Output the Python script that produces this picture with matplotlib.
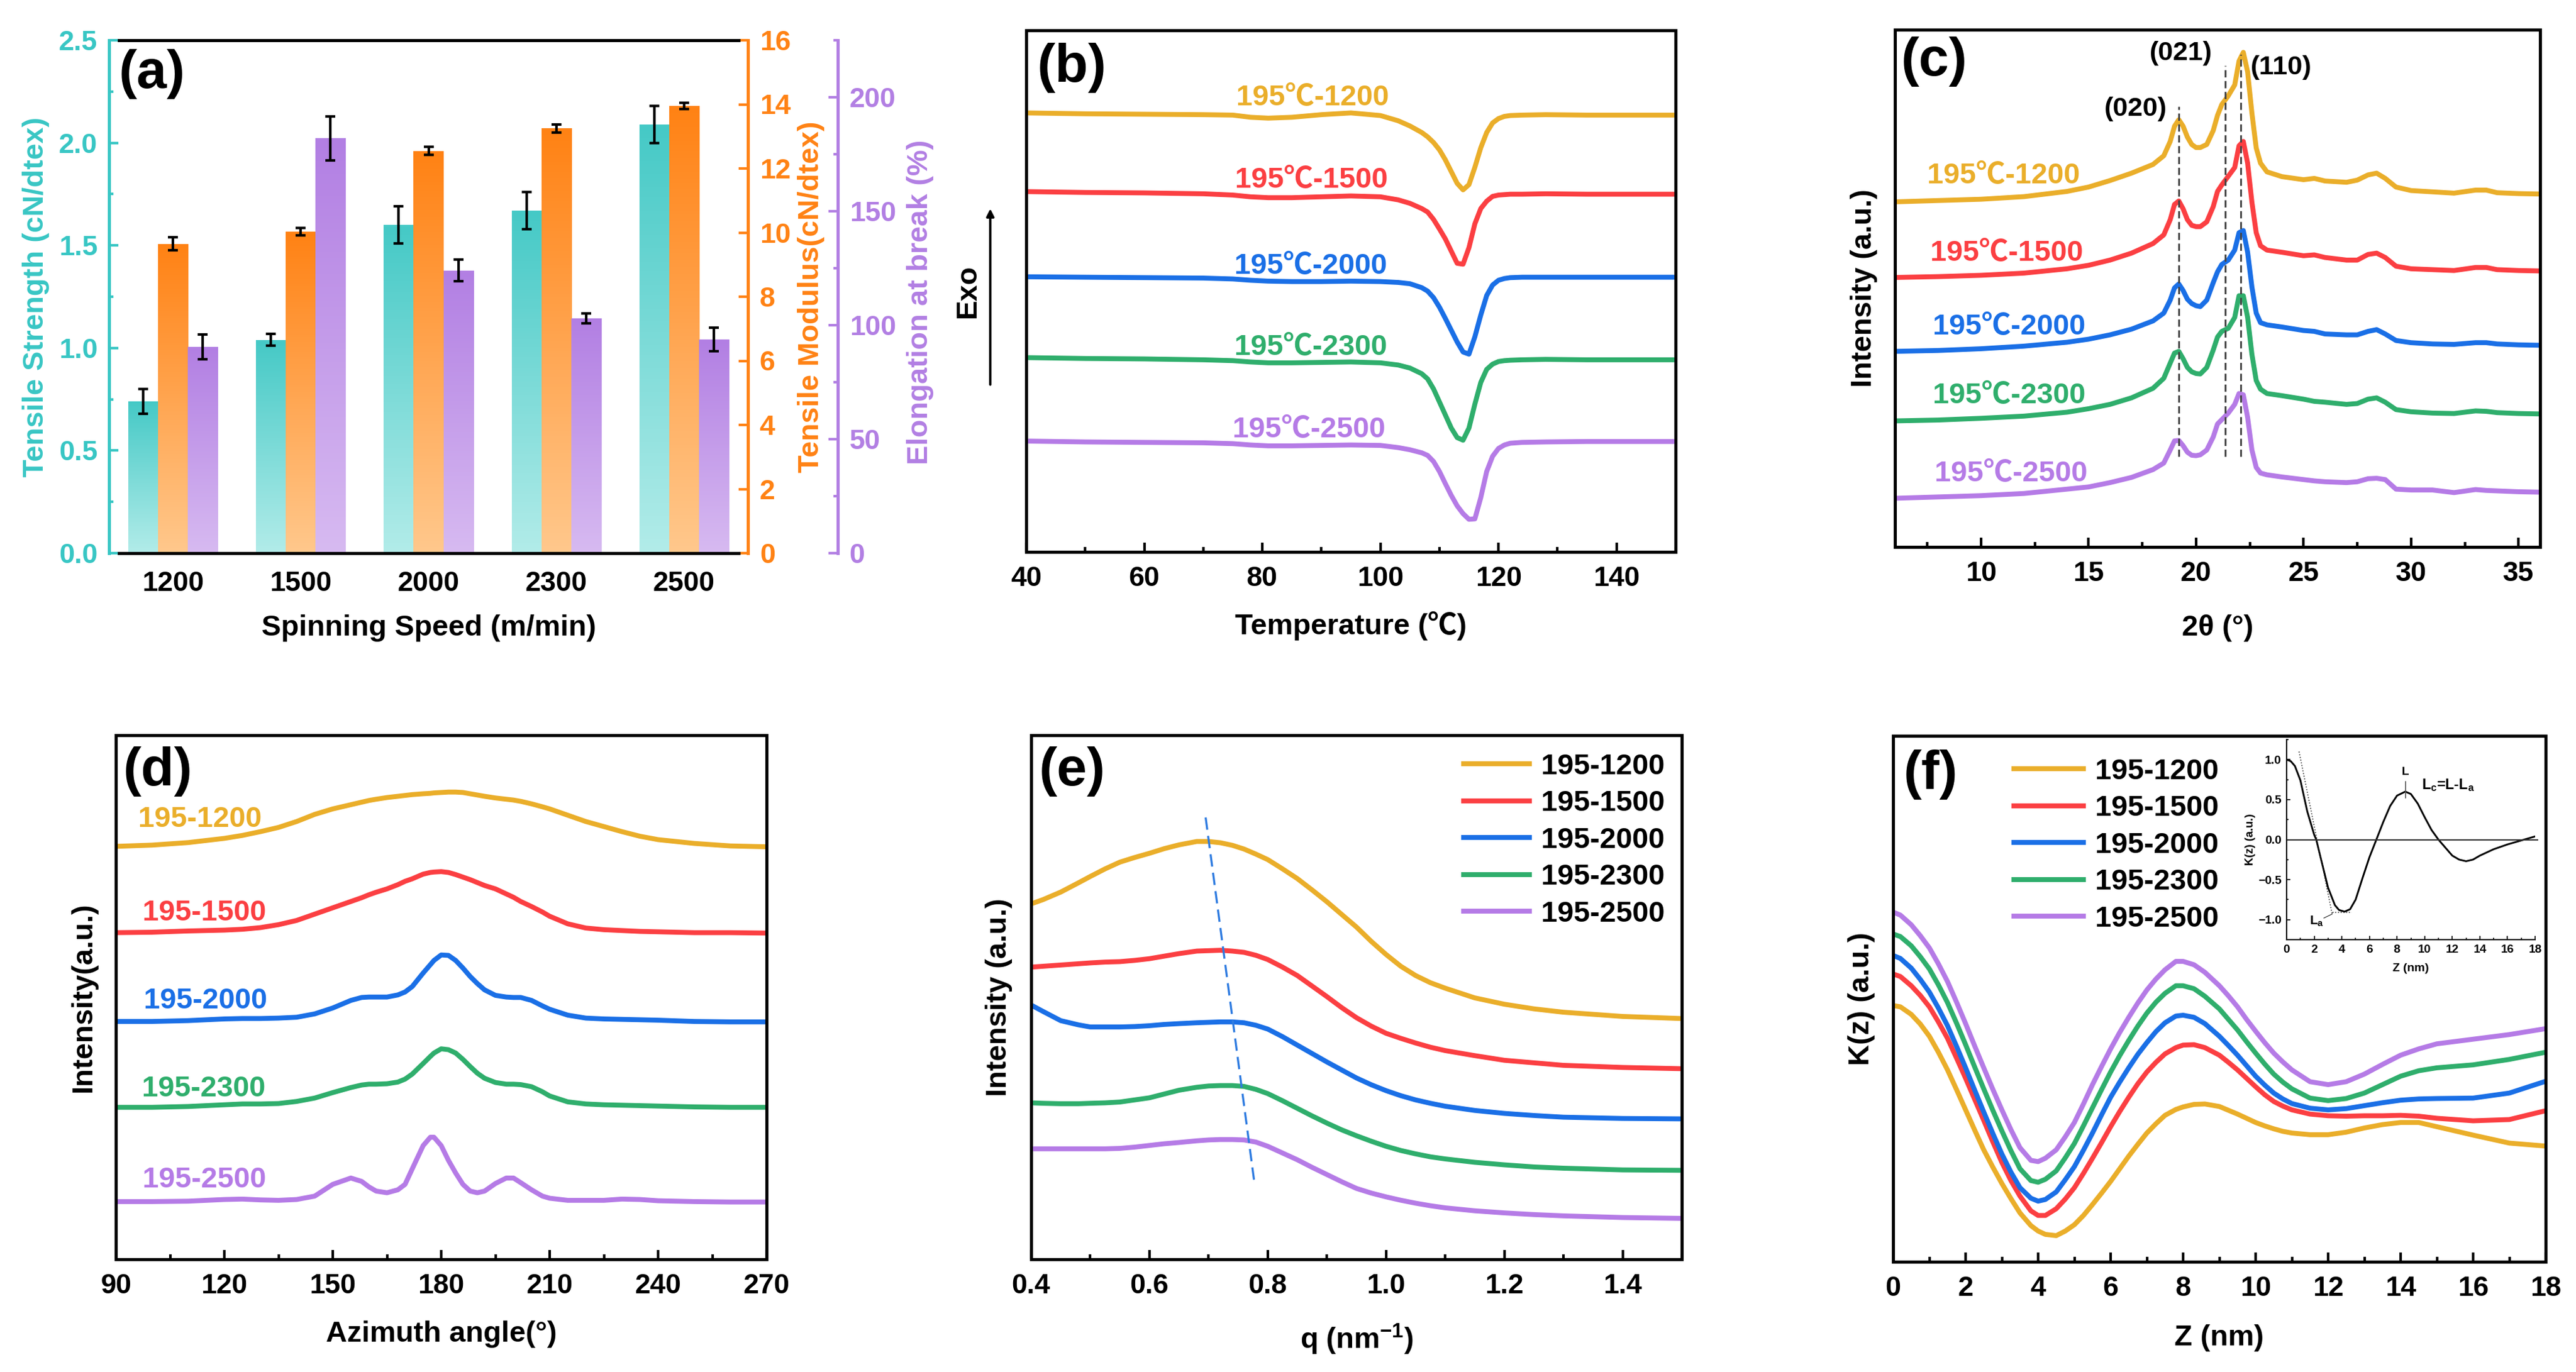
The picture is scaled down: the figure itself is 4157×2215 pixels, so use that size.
import numpy as np
import matplotlib
matplotlib.use("Agg")
import matplotlib.pyplot as plt
from matplotlib.colors import LinearSegmentedColormap
from matplotlib.ticker import MultipleLocator

W, H = 4157, 2215
plt.rcParams["font.family"] = ["Liberation Sans", "Noto Sans CJK SC"]
plt.rcParams["font.weight"] = "bold"
plt.rcParams["axes.labelweight"] = "bold"
plt.rcParams["mathtext.default"] = "regular"

speeds = ["1200", "1500", "2000", "2300", "2500"]
COL = {"1200": "#EAAE2A", "1500": "#FB3F42", "2000": "#1A6FE6", "2300": "#2FAE6C", "2500": "#B57BE6"}
LABEL_FS = 11.3
TICK_FS = 10.8

# (a) mechanical properties
strength = [0.74, 1.04, 1.60, 1.67, 2.09]
strength_err = [0.06, 0.03, 0.09, 0.09, 0.09]
modulus = [9.65, 10.03, 12.55, 13.25, 13.95]
modulus_err = [0.2, 0.12, 0.13, 0.12, 0.1]
elong = [90.5, 182, 124, 103, 93.7]
elong_err = [5.5, 9.7, 4.8, 2.2, 5.2]

# (b) DSC
b_x = [40, 50, 60, 70, 75, 78, 81, 85, 90, 95, 100, 103, 105, 107, 108, 109, 110, 111, 112, 113, 114, 115, 116, 117, 118, 119, 120, 121, 122, 124, 128, 135, 150]
b_1200 = [1010, 1008, 1007, 1006, 1005, 1000, 998, 1000, 1006, 1010, 1004, 992, 980, 965, 955, 942, 925, 902, 875, 848, 833, 845, 885, 930, 965, 987, 997, 1002, 1004, 1005, 1006, 1005, 1005]
b_1500 = [829, 827, 826, 824, 821, 817, 815, 815, 817, 819, 817, 810, 802, 790, 782, 765, 743, 720, 692, 664, 662, 700, 755, 790, 807, 818, 821, 822, 823, 823, 824, 823, 823]
b_2000 = [633, 632, 631, 630, 628, 625, 623, 622, 622, 623, 622, 620, 617, 608, 600, 585, 563, 537, 510, 483, 460, 455, 495, 545, 590, 614, 625, 629, 631, 632, 632, 632, 632]
b_2300 = [447, 445, 444, 442, 440, 437, 435, 435, 436, 437, 435, 430, 423, 410, 398, 375, 345, 315, 285, 263, 257, 285, 340, 390, 420, 432, 438, 440, 441, 442, 443, 442, 442]
b_2500 = [255, 253, 252, 251, 249, 246, 244, 244, 245, 246, 245, 240, 235, 228, 222, 208, 185, 157, 130, 106, 88, 75, 76, 125, 185, 220, 238, 246, 250, 252, 253, 254, 254]

# (c) WAXD
c_x = [6, 8, 10, 12, 14, 15, 16, 17, 18, 18.5, 18.8, 19, 19.2, 19.4, 19.6, 19.8, 20, 20.2, 20.5, 20.8, 21, 21.2, 21.5, 21.8, 22, 22.2, 22.4, 22.6, 22.8, 23, 23.3, 24, 25, 25.5, 26, 27, 27.5, 28, 28.4, 28.8, 29.3, 30, 31, 32, 33, 33.5, 34, 35, 36]
c_1200 = [794, 797, 800, 806, 818, 828, 843, 860, 880, 900, 933, 968, 983, 968, 943, 926, 919, 919, 926, 958, 993, 1018, 1038, 1063, 1118, 1138, 1093, 998, 918, 883, 863, 852, 845, 848, 842, 839, 844, 856, 860, 848, 828, 820, 817, 814, 821, 821, 815, 813, 812]
c_1500 = [620, 622, 625, 630, 640, 648, 660, 676, 698, 718, 753, 788, 796, 778, 753, 740, 737, 737, 748, 783, 818, 833, 853, 873, 923, 933, 883, 793, 723, 693, 683, 678, 670, 672, 666, 660, 660, 673, 676, 666, 646, 640, 638, 636, 643, 643, 638, 636, 635]
c_2000 = [450, 452, 456, 462, 471, 478, 488, 501, 520, 538, 568, 596, 605, 590, 570, 560, 555, 553, 568, 608, 633, 650, 660, 683, 723, 728, 678, 598, 538, 516, 511, 506, 498, 496, 490, 488, 488, 496, 500, 490, 475, 470, 467, 466, 470, 470, 467, 465, 464]
c_2300 = [290, 292, 296, 301, 310, 318, 328, 343, 365, 388, 423, 446, 450, 433, 413, 403, 399, 398, 413, 453, 483, 496, 503, 528, 578, 578, 528, 443, 383, 363, 353, 348, 340, 335, 333, 328, 330, 340, 343, 333, 316, 311, 308, 307, 313, 312, 309, 307, 306]
c_2500 = [112, 115, 118, 123, 133, 138, 148, 160, 178, 193, 223, 244, 245, 233, 218, 211, 210, 212, 223, 253, 283, 293, 308, 328, 353, 350, 298, 223, 183, 170, 166, 161, 155, 152, 150, 148, 150, 157, 158, 155, 133, 131, 131, 125, 132, 130, 129, 127, 126]
c_peak_x = [19.2, 21.37, 22.08]
c_peak_top = [1013, 1108, 1133]
c_peak_names = ["(020)", "(021)", "(110)"]

# (d) azimuthal scans
d_x = [90, 100, 110, 120, 125, 130, 135, 140, 145, 150, 155, 158, 160, 162, 165, 168, 170, 172, 175, 177, 178, 180, 182, 184, 186, 188, 190, 192, 195, 198, 200, 202, 205, 208, 210, 215, 220, 225, 230, 235, 240, 250, 260, 270]
d_1200 = [981, 984, 990, 1000, 1007, 1016, 1026, 1040, 1057, 1070, 1080, 1086, 1090, 1093, 1097, 1100, 1102, 1104, 1106, 1107, 1108, 1109, 1110, 1110, 1109, 1106, 1103, 1100, 1096, 1093, 1091, 1088, 1082, 1075, 1070, 1055, 1040, 1028, 1016, 1005, 997, 988, 982, 980]
d_1500 = [776, 777, 780, 782, 784, 788, 795, 805, 820, 835, 850, 859, 866, 872, 880, 890, 898, 904, 915, 919, 920, 921, 919, 914, 908, 902, 895, 888, 880, 868, 860, 850, 838, 825, 815, 797, 787, 783, 781, 779, 778, 776, 776, 775]
d_2000 = [565, 565, 567, 571, 572, 572, 573, 575, 583, 597, 615, 622, 623, 623, 623, 628, 635, 648, 680, 700, 710, 723, 722, 710, 692, 672, 655, 640, 627, 623, 622, 622, 615, 602, 594, 580, 573, 571, 570, 569, 568, 565, 564, 564]
d_2300 = [361, 361, 363, 367, 369, 369, 370, 375, 383, 396, 408, 414, 416, 416, 417, 421, 428, 440, 465, 482, 490, 500, 498, 490, 475, 458, 442, 430, 420, 416, 416, 415, 410, 398, 388, 374, 369, 367, 366, 365, 364, 362, 361, 361]
d_2500 = [137, 137, 138, 142, 143, 141, 140, 142, 150, 178, 193, 185, 172, 162, 158, 165, 178, 215, 270, 290, 290, 270, 235, 205, 178, 162, 158, 162, 180, 193, 193, 182, 165, 150, 145, 140, 140, 140, 143, 142, 139, 137, 136, 136]

# (e) SAXS
e_x = [0.4, 0.42, 0.45, 0.48, 0.5, 0.525, 0.55, 0.575, 0.6, 0.625, 0.65, 0.68, 0.7, 0.72, 0.74, 0.76, 0.78, 0.8, 0.825, 0.85, 0.875, 0.9, 0.925, 0.95, 0.975, 1.0, 1.025, 1.05, 1.075, 1.1, 1.15, 1.2, 1.25, 1.3, 1.4, 1.5]
e_1200 = [843, 853, 871, 893, 908, 926, 942, 953, 963, 974, 983, 991, 991, 988, 982, 973, 961, 948, 926, 903, 876, 848, 818, 788, 754, 723, 695, 673, 656, 643, 620, 605, 594, 586, 576, 571]
e_1500 = [693, 695, 698, 701, 703, 705, 706, 709, 713, 719, 725, 731, 732, 733, 731, 728, 721, 711, 693, 673, 648, 623, 597, 573, 553, 536, 524, 513, 503, 495, 483, 472, 466, 460, 455, 452]
e_2000 = [603, 588, 566, 556, 551, 551, 551, 552, 554, 557, 559, 561, 562, 563, 563, 561, 555, 546, 528, 508, 488, 468, 449, 430, 414, 400, 388, 378, 370, 363, 353, 346, 341, 337, 334, 333]
e_2300 = [371, 370, 369, 369, 370, 371, 373, 378, 383, 392, 401, 408, 411, 412, 412, 410, 403, 393, 376, 358, 340, 323, 307, 293, 280, 268, 258, 250, 243, 238, 230, 224, 219, 216, 212, 211]
e_2500 = [262, 262, 262, 262, 262, 262, 263, 266, 270, 274, 277, 281, 283, 284, 284, 283, 278, 268, 252, 236, 218, 201, 184, 168, 157, 148, 140, 133, 127, 122, 115, 110, 106, 103, 99, 97]
e_trend_x = [0.695, 0.777]
e_trend_y = [1048, 186]

# (f) correlation function
f_x = [0, 0.2, 0.5, 0.75, 1, 1.25, 1.5, 1.75, 2, 2.25, 2.5, 2.75, 3, 3.25, 3.5, 3.8, 4, 4.2, 4.5, 4.75, 5, 5.25, 5.5, 5.75, 6, 6.25, 6.5, 6.75, 7, 7.25, 7.5, 7.8, 8, 8.3, 8.6, 9, 9.25, 9.5, 9.75, 10, 10.25, 10.5, 10.75, 11, 11.5, 12, 12.5, 13, 13.5, 14, 14.5, 15, 16, 17, 18]
f_1200 = [609, 606, 588, 565, 536, 498, 456, 409, 361, 313, 266, 225, 186, 150, 116, 86, 73, 65, 62, 73, 88, 110, 136, 163, 191, 221, 251, 279, 306, 328, 348, 362, 368, 374, 375, 369, 360, 351, 341, 331, 323, 316, 310, 306, 302, 302, 308, 318, 326, 331, 331, 321, 301, 282, 275]
f_1500 = [684, 678, 656, 633, 606, 570, 531, 484, 436, 386, 336, 285, 236, 193, 156, 121, 110, 110, 126, 149, 176, 210, 246, 283, 321, 357, 391, 423, 451, 474, 494, 509, 515, 516, 509, 491, 474, 456, 436, 416, 397, 381, 370, 361, 351, 347, 346, 347, 347, 348, 346, 341, 335, 338, 359]
f_2000 = [728, 721, 698, 671, 641, 603, 561, 512, 461, 408, 356, 305, 256, 213, 176, 151, 144, 148, 166, 195, 226, 265, 306, 349, 391, 427, 461, 493, 521, 547, 568, 584, 586, 581, 566, 536, 514, 491, 466, 441, 420, 401, 387, 376, 365, 361, 364, 371, 378, 384, 387, 388, 389, 401, 429]
f_2300 = [779, 773, 751, 725, 696, 658, 616, 567, 516, 463, 411, 360, 311, 264, 221, 193, 189, 196, 216, 247, 281, 323, 366, 409, 451, 490, 526, 560, 591, 617, 638, 656, 656, 649, 631, 601, 576, 551, 523, 496, 470, 446, 427, 411, 389, 383, 388, 401, 421, 441, 454, 461, 468, 481, 498]
f_2500 = [831, 824, 801, 775, 746, 708, 666, 617, 566, 513, 461, 410, 361, 314, 271, 241, 238, 246, 266, 297, 331, 375, 421, 464, 506, 545, 581, 615, 646, 672, 694, 714, 714, 706, 688, 656, 632, 606, 576, 548, 521, 496, 475, 456, 428, 421, 428, 446, 469, 491, 506, 518, 529, 540, 554]

# inset of (f)
ins_x = [0, 0.3, 0.6, 1, 1.5, 2, 2.15, 2.5, 3, 3.5, 3.8, 4.2, 4.6, 5, 5.5, 6, 6.5, 7, 7.5, 8, 8.6, 9, 9.5, 10, 10.5, 11, 11.5, 12, 12.5, 13, 13.5, 14, 15, 16, 17, 18]
ins_y = [1, 0.98, 0.92, 0.74, 0.35, 0.06, 0, -0.25, -0.6, -0.82, -0.88, -0.9, -0.87, -0.75, -0.48, -0.22, 0, 0.22, 0.42, 0.55, 0.6, 0.57, 0.45, 0.28, 0.12, 0, -0.1, -0.2, -0.25, -0.27, -0.25, -0.2, -0.12, -0.06, -0.01, 0.04]


def add_axes(x0, x1, y0, y1):
    return fig.add_axes([x0 / W, 1 - y1 / H, (x1 - x0) / W, (y1 - y0) / H])


def panel(box, xlim, ylim, xmaj, xmin, xlabel, ylabel, tag, tag_xy, xlabel_y, ylabel_x):
    ax = add_axes(*box)
    ax.set_xlim(*xlim)
    ax.set_ylim(*ylim)
    ax.set_yticks([])
    ax.xaxis.set_major_locator(MultipleLocator(xmaj))
    ax.xaxis.set_minor_locator(MultipleLocator(xmin))
    ax.tick_params(axis="x", which="major", direction="in", length=3.6, width=1.0, labelsize=TICK_FS, pad=5.5)
    ax.tick_params(axis="x", which="minor", direction="in", length=2, width=1.0)
    for s in ax.spines.values():
        s.set_linewidth(1.2)
    set_labels(ax, box, xlabel, ylabel, xlabel_y, ylabel_x)
    put_tag(ax, box, tag, tag_xy)
    return ax


def set_labels(ax, box, xlabel, ylabel, xlabel_y, ylabel_x, **kw):
    x0, x1, y0, y1 = box
    ax.set_xlabel(xlabel, fontsize=LABEL_FS, va="center")
    ax.xaxis.set_label_coords(0.5, (y1 - xlabel_y) / (y1 - y0))
    if ylabel:
        ax.set_ylabel(ylabel, fontsize=LABEL_FS, va="center", **kw)
        ax.yaxis.set_label_coords((ylabel_x - x0) / (x1 - x0), 0.5)


def put_tag(ax, box, tag, xy):
    x0, x1, y0, y1 = box
    ax.text((xy[0] - x0) / (x1 - x0), (y1 - xy[1]) / (y1 - y0), tag, transform=ax.transAxes,
            fontsize=21, ha="center", va="center", zorder=10)


def curves(ax, x, series):
    for sp, y in zip(speeds, series):
        ax.plot(x, y, color=COL[sp], lw=1.9, solid_joinstyle="round", label="195-" + sp)


fig = plt.figure(figsize=(W / 300, H / 300), dpi=300)

# ---------- (a)
box_a = (176, 1207, 65, 893)
ax_a = add_axes(*box_a)
ax_m = ax_a.twinx()
ax_e = ax_a.twinx()
pos = np.arange(1, 6)
bw = 0.233
triples = [
    (ax_a, strength, strength_err, -bw, "#45C9C6", "#B2ECE9"),
    (ax_m, modulus, modulus_err, 0, "#FF8214", "#FFC88C"),
    (ax_e, elong, elong_err, bw, "#B27FE3", "#D7BAF1"),
]
for a, vals, errs, off, top_c, low_c in triples:
    cmap = LinearSegmentedColormap.from_list("g", [low_c, top_c])
    bars = a.bar(pos + off, vals, bw, color="none", linewidth=0)
    for b in bars:
        im = a.imshow(np.linspace(1, 0, 128).reshape(-1, 1), cmap=cmap, aspect="auto", vmin=0, vmax=1,
                      extent=[b.get_x(), b.get_x() + bw, 0, b.get_height()], zorder=1)
        im.set_clip_path(b)
    a.errorbar(pos + off, vals, yerr=errs, fmt="none", ecolor="k", elinewidth=1, capsize=2, capthick=1, zorder=3)
    a.set_xlim(0.5, 5.5)
ax_a.set_ylim(0, 2.5)
ax_m.set_ylim(0, 16)
ax_e.set_ylim(0, 225)
ax_a.set_xticks(pos, speeds)
ax_a.tick_params(axis="x", length=0, labelsize=TICK_FS, pad=7)
ax_a.yaxis.set_major_locator(MultipleLocator(0.5))
ax_a.yaxis.set_minor_locator(MultipleLocator(0.25))
ax_m.yaxis.set_major_locator(MultipleLocator(2))
ax_e.yaxis.set_major_locator(MultipleLocator(50))
ax_e.yaxis.set_minor_locator(MultipleLocator(25))
ax_e.spines["right"].set_position(("axes", (1352 - 176) / (1207 - 176)))
for a, side, c in [(ax_a, "left", "#38C6C4"), (ax_m, "right", "#FF8214"), (ax_e, "right", "#B27FE3")]:
    for name, s in a.spines.items():
        s.set_visible(name == side)
    a.spines[side].set_color(c)
    a.spines[side].set_linewidth(1.2)
    a.tick_params(axis="y", which="major", direction="in", length=3.6, width=1.0, color=c, labelcolor=c, labelsize=TICK_FS, pad=4.5)
    a.tick_params(axis="y", which="minor", direction="in", length=1.6, width=1.0, color=c)
set_labels(ax_a, box_a, "Spinning Speed (m/min)", "Tensile Strength (cN/dtex)", 1014, 58, color="#38C6C4")
ax_m.set_ylabel("Tensile Modulus(cN/dtex)", fontsize=LABEL_FS, color="#FF8214", va="center")
ax_m.yaxis.set_label_coords((1309 - 176) / 1031, 0.5)
ax_e.set_ylabel("Elongation at break (%)", fontsize=LABEL_FS, color="#B27FE3", va="center")
ax_e.yaxis.set_label_coords((1485 - 176) / 1031, 0.49)
for yy in (0, 1):
    ax_e.plot([0.0155, 0.985], [yy, yy], color="k", lw=1.2, transform=ax_e.transAxes, clip_on=False, zorder=5)
put_tag(ax_e, box_a, "(a)", (245, 119))

# ---------- (b)
box_b = (1656, 2704, 49, 891)
ax_b = panel(box_b, (40, 150), (0, 1200), 20, 10, "Temperature (℃)", "Exo", "(b)", (1730, 109), 1010, 1562)
curves(ax_b, b_x, [b_1200, b_1500, b_2000, b_2300, b_2500])
b_lab_x = [88.5, 88.3, 88.2, 88.2, 87.9]
b_lab_y = [1044, 855, 657, 470, 281]
for sp, lx, ly in zip(speeds, b_lab_x, b_lab_y):
    ax_b.text(lx, ly, "195℃-" + sp, color=COL[sp], fontsize=11.3, ha="center", va="center")
ax_b.annotate("", xy=(-0.0553, 0.658), xytext=(-0.0553, 0.3207), xycoords="axes fraction", textcoords="axes fraction",
              arrowprops=dict(arrowstyle="-|>", color="k", lw=0.9, shrinkA=0, shrinkB=0, mutation_scale=6))

# ---------- (c)
box_c = (3058, 4099, 48, 883)
ax_c = panel(box_c, (6, 36), (0, 1190), 5, 2.5, "2θ (°)", "Intensity (a.u.)", "(c)", (3121, 100), 1014, 3008)
curves(ax_c, c_x, [c_1200, c_1500, c_2000, c_2300, c_2500])
c_lab_x = [11.04, 11.2, 11.3, 11.3, 11.4]
c_lab_y = [853, 675, 506, 348, 168]
for sp, lx, ly in zip(speeds, c_lab_x, c_lab_y):
    ax_c.text(lx, ly, "195℃-" + sp, color=COL[sp], fontsize=11.3, ha="center", va="center")
for px, top in zip(c_peak_x, c_peak_top):
    ax_c.plot([px, px], [208, top], color="#444444", lw=0.7, ls=(0, (4, 2)), zorder=4)
ax_c.text(17.2, 1008, c_peak_names[0], fontsize=10.4, ha="center", va="center")
ax_c.text(19.3, 1136, c_peak_names[1], fontsize=10.4, ha="center", va="center")
ax_c.text(23.95, 1103, c_peak_names[2], fontsize=10.4, ha="center", va="center")

# ---------- (d)
box_d = (187, 1237, 1187, 2033)
ax_d = panel(box_d, (90, 270), (0, 1245), 30, 15, "Azimuth angle(°)", "Intensity(a.u.)", "(d)", (255, 1245), 2154, 135)
curves(ax_d, d_x, [d_1200, d_1500, d_2000, d_2300, d_2500])
d_lab_x = [113.3, 114.5, 114.7, 114.2, 114.5]
d_lab_y = [1045, 823, 613, 405, 188]
for sp, lx, ly in zip(speeds, d_lab_x, d_lab_y):
    ax_d.text(lx, ly, "195-" + sp, color=COL[sp], fontsize=11.3, ha="center", va="center")

# ---------- (e)
box_e = (1664, 2714, 1187, 2033)
ax_p = panel(box_e, (0.4, 1.5), (0, 1243), 0.2, 0.1, "q (nm$^{-1}$)", "Intensity (a.u.)", "(e)", (1730, 1245), 2162, 1612)
curves(ax_p, e_x, [e_1200, e_1500, e_2000, e_2300, e_2500])
ax_p.plot(e_trend_x, e_trend_y, color="#2E7BE0", lw=0.8, ls=(0, (6, 3)))
ax_p.legend(loc="upper left", bbox_to_anchor=(0.665, 0.966), frameon=False, fontsize=11.3, handlelength=2.25,
            handletextpad=0.4, labelspacing=0.33, borderaxespad=0, borderpad=0)

# ---------- (f)
box_f = (3055, 4108, 1188, 2037)
ax_f = panel(box_f, (0, 18), (0, 1250), 2, 1, "Z (nm)", "K(z) (a.u.)", "(f)", (3115, 1250), 2160, 3004)
curves(ax_f, f_x, [f_1200, f_1500, f_2000, f_2300, f_2500])
ax_f.legend(loc="upper left", bbox_to_anchor=(0.185, 0.958), frameon=False, fontsize=11.3, handlelength=2.38,
            handletextpad=0.4, labelspacing=0.33, borderaxespad=0, borderpad=0)

box_i = (3690, 4091, 1194, 1517)
ax_i = add_axes(*box_i)
ax_i.patch.set_alpha(0)
ax_i.plot(ins_x, ins_y, color="k", lw=0.7)
ax_i.axhline(0, color="#333333", lw=0.5, xmax=1.01, clip_on=False)
ax_i.plot([0.9, 3.3], [1.1, -0.93], color="#333333", lw=0.4, ls=":")
ax_i.plot([3.3, 4.7], [-0.91, -0.91], color="#333333", lw=0.4, ls=":")
ax_i.plot([2.7, 3.3], [-0.98, -0.93], color="#333333", lw=0.3)
ax_i.plot([8.6, 8.6], [0.52, 0.72], color="#555555", lw=0.4)
ax_i.text(8.6, 0.84, "L", fontsize=4.6, ha="center", va="center")
ax_i.text(9.8, 0.68, "L$_c$=L-L$_a$", fontsize=5.6, ha="left", va="center")
ax_i.text(2.2, -1.02, "L$_a$", fontsize=5, ha="center", va="center")
ax_i.set_xlim(0, 18)
ax_i.set_ylim(-1.25, 1.25)
ax_i.spines["top"].set_visible(False)
ax_i.spines["right"].set_visible(False)
ax_i.spines["left"].set_linewidth(0.5)
ax_i.spines["bottom"].set_linewidth(0.5)
ax_i.xaxis.set_major_locator(MultipleLocator(2))
ax_i.xaxis.set_minor_locator(MultipleLocator(1))
ax_i.yaxis.set_major_locator(MultipleLocator(0.5))
ax_i.yaxis.set_minor_locator(MultipleLocator(0.25))
ax_i.tick_params(which="major", direction="in", length=1.5, width=0.4, labelsize=4.6, pad=2)
ax_i.tick_params(which="minor", direction="in", length=0.8, width=0.4)
ax_i.set_xlabel("Z (nm)", fontsize=4.6, labelpad=3)
ax_i.set_ylabel("K(z) (a.u.)", fontsize=4.4, labelpad=1)

fig.savefig("out.png", dpi=300)
